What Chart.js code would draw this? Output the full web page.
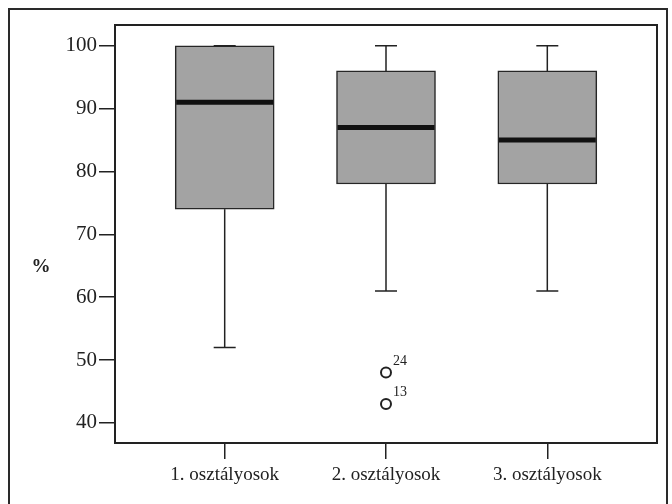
<!DOCTYPE html>
<html>
<head>
<meta charset="utf-8">
<script src="https://cdn.jsdelivr.net/npm/chart.js@4/dist/chart.umd.min.js"></script>
<style>
  html, body { margin: 0; padding: 0; background: #fff; overflow: hidden; }
  #wrap { position: relative; width: 672px; height: 504px; }
  #frame { position: absolute; left: 8px; top: 8px; width: 660px; height: 520px;
           border: 2px solid #2a2a2a; box-sizing: border-box; }
  canvas { position: absolute; left: 0; top: 0; }
</style>
</head>
<body>
<div id="wrap">
  <div id="frame"></div>
  <canvas id="boxChart" width="672" height="504"></canvas>
</div>
<script>
// categories and five-number summaries
const categories = ['1. osztályosok', '2. osztályosok', '3. osztályosok'];
const mins    = [52, 61, 61];
const q1s     = [74, 78, 78];
const medians = [91, 87, 85];
const q3s     = [100, 96, 96];
const maxs    = [100, 100, 100];

// outliers (group index, value, case label)
const outlierGroup  = [1, 1];
const outlierValues = [48, 43];
const outlierLabels = ['24', '13'];

const yTicks = [40, 50, 60, 70, 80, 90, 100];
const serif = '"Liberation Serif", "DejaVu Serif", serif';

const boxPlugin = {
  id: 'boxParts',
  afterDatasetsDraw(chart) {
    const ctx = chart.ctx;
    const x = chart.scales.x, y = chart.scales.y;
    const boxMeta = chart.getDatasetMeta(0);
    ctx.save();
    categories.forEach((c, i) => {
      const cx = x.getPixelForValue(i + 1);
      const bar = boxMeta.data[i];
      const half = bar.width / 2;
      // whiskers
      ctx.strokeStyle = '#222';
      ctx.lineWidth = 1.5;
      ctx.beginPath();
      ctx.moveTo(cx, y.getPixelForValue(q3s[i]));
      ctx.lineTo(cx, y.getPixelForValue(maxs[i]));
      ctx.moveTo(cx, y.getPixelForValue(q1s[i]));
      ctx.lineTo(cx, y.getPixelForValue(mins[i]));
      ctx.stroke();
      // caps
      ctx.beginPath();
      [mins[i], maxs[i]].forEach(v => {
        const py = y.getPixelForValue(v);
        ctx.moveTo(cx - 11, py);
        ctx.lineTo(cx + 11, py);
      });
      ctx.stroke();
      // median
      ctx.strokeStyle = '#111';
      ctx.lineWidth = 5;
      ctx.beginPath();
      const my = y.getPixelForValue(medians[i]);
      ctx.moveTo(cx - half + 1, my);
      ctx.lineTo(cx + half - 1, my);
      ctx.stroke();
    });
    // outlier case labels
    const outMeta = chart.getDatasetMeta(1);
    ctx.fillStyle = '#222';
    ctx.font = '14px ' + serif;
    ctx.textAlign = 'left';
    ctx.textBaseline = 'alphabetic';
    outMeta.data.forEach((pt, k) => {
      ctx.fillText(outlierLabels[k], pt.x + 7, pt.y - 8);
    });
    // plot frame
    const a = chart.chartArea;
    ctx.strokeStyle = '#222';
    ctx.lineWidth = 2;
    ctx.strokeRect(a.left, a.top, a.right - a.left, a.bottom - a.top);
    // y axis label
    ctx.fillStyle = '#222';
    ctx.font = 'bold 19px ' + serif;
    ctx.textAlign = 'center';
    ctx.textBaseline = 'middle';
    ctx.fillText('%', 41, 267);
    ctx.restore();
  }
};

new Chart(document.getElementById('boxChart'), {
  type: 'bar',
  data: {
    datasets: [
      {
        type: 'bar',
        data: categories.map((c, i) => ({ x: i + 1, y: [q1s[i], q3s[i]] })),
        backgroundColor: '#a3a3a3',
        borderColor: '#262626',
        borderWidth: 1.5,
        borderSkipped: false,
        barThickness: 99
      },
      {
        type: 'scatter',
        data: outlierValues.map((v, k) => ({ x: outlierGroup[k] + 1, y: v })),
        pointStyle: 'circle',
        pointRadius: 5,
        pointBorderWidth: 2,
        pointBorderColor: '#222',
        pointBackgroundColor: '#fff'
      }
    ]
  },
  options: {
    responsive: false,
    animation: false,
    layout: { padding: { top: 25, right: 15, left: 0, bottom: 0 } },
    plugins: { legend: { display: false }, tooltip: { enabled: false } },
    scales: {
      x: {
        type: 'linear',
        offset: false,
        min: 0.32,
        max: 3.68,
        afterBuildTicks: s => { s.ticks = categories.map((c, i) => ({ value: i + 1 })); },
        afterFit: s => { s.height = 61; },
        grid: { display: true, offset: false, drawOnChartArea: false, drawTicks: true, tickLength: 16, color: '#222', lineWidth: 1.5 },
        border: { display: false },
        ticks: {
          callback: v => categories[v - 1],
          color: '#222',
          font: { family: serif, size: 19 },
          padding: 5,
          autoSkip: false,
          maxRotation: 0
        }
      },
      y: {
        type: 'linear',
        min: 36.8,
        max: 103.3,
        afterBuildTicks: s => { s.ticks = yTicks.map(v => ({ value: v })); },
        afterFit: s => { s.width = 115; },
        grid: { display: true, drawOnChartArea: false, drawTicks: true, tickLength: 16, color: '#222', lineWidth: 1.5 },
        border: { display: false },
        ticks: {
          color: '#222',
          font: { family: serif, size: 21 },
          padding: 2
        }
      }
    }
  },
  plugins: [boxPlugin]
});
</script>
</body>
</html>
